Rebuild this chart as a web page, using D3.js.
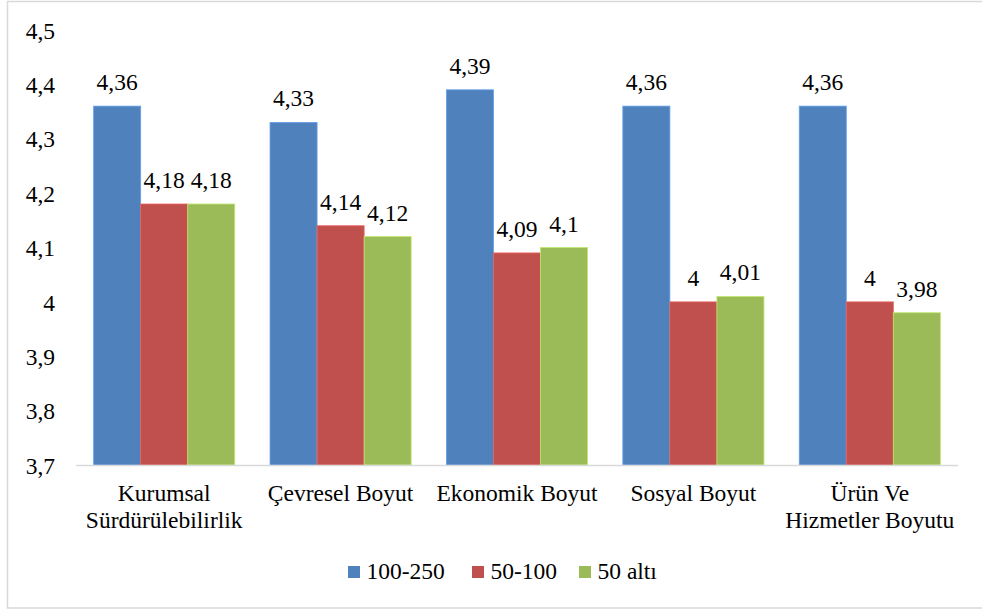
<!DOCTYPE html>
<html>
<head>
<meta charset="utf-8">
<script src="https://cdn.jsdelivr.net/npm/d3@7"></script>
</head>
<body style="margin:0">
<svg id="fig" width="982" height="610"></svg>
<script>
// Category names (split across lines where they wrap)
const categories = [
  ["Kurumsal", "Sürdürülebilirlik"],
  ["Çevresel Boyut"],
  ["Ekonomik Boyut"],
  ["Sosyal Boyut"],
  ["Ürün Ve", "Hizmetler Boyutu"]
];
const seriesNames = ["100-250", "50-100", "50 altı"];
const values100_250 = [4.36, 4.33, 4.39, 4.36, 4.36];
const values50_100  = [4.18, 4.14, 4.09, 4.00, 4.00];
const values50alti  = [4.18, 4.12, 4.10, 4.01, 3.98];
const seriesValues = [values100_250, values50_100, values50alti];
const yTicks = [3.7, 3.8, 3.9, 4.0, 4.1, 4.2, 4.3, 4.4, 4.5];
const colors = ["#4F81BD", "#C0504D", "#9BBB59"];

const FONT = "Liberation Serif";
const FS = 23.5;
const svg = d3.select("#fig");
const fmt = v => String(+v.toFixed(2)).replace(".", ",");

// Serif text helper
const serif = sel => sel.attr("font-family", FONT).attr("font-size", FS).attr("fill", "#000");

// Chart frame
svg.append("rect")
  .attr("x", 7.5).attr("y", 1.5)
  .attr("width", 1000).attr("height", 606.5)
  .attr("fill", "#fff").attr("stroke", "#d9d9d9").attr("stroke-width", 1.5);

const plot = { left: 76, right: 958, top: 30, bottom: 465 };

const x0 = d3.scaleBand()
  .domain(d3.range(categories.length))
  .range([plot.left, plot.right])
  .paddingInner(0.2).paddingOuter(0.1);
const x1 = d3.scaleBand()
  .domain(d3.range(seriesNames.length))
  .range([0, x0.bandwidth()]);
const y = d3.scaleLinear().domain([3.7, 4.5]).range([plot.bottom, plot.top]);

// Y axis labels
const yAxis = d3.axisLeft(y).tickValues(yTicks).tickSize(0).tickPadding(0).tickFormat(fmt);
const yg = svg.append("g").attr("transform", "translate(55,0)").call(yAxis);
yg.select(".domain").remove();
yg.attr("font-family", FONT).attr("font-size", FS);
yg.selectAll("text").call(serif).attr("dy", "0.35em").attr("x", 0);

// Bars
const groups = svg.append("g").selectAll("g")
  .data(categories.map((c, i) => i))
  .join("g")
  .attr("transform", i => `translate(${x0(i)},0)`);

groups.selectAll("rect")
  .data(i => seriesValues.map((s, k) => ({ k, v: s[i] })))
  .join("rect")
  .attr("x", d => x1(d.k))
  .attr("y", d => y(d.v))
  .attr("width", x1.bandwidth())
  .attr("height", d => y(3.7) - y(d.v))
  .attr("fill", d => colors[d.k])
  .attr("stroke", d => d3.color(colors[d.k]).brighter(0.6))
  .attr("stroke-width", 0.8);

// Value labels
groups.selectAll("text.val")
  .data(i => seriesValues.map((s, k) => ({ k, v: s[i] })))
  .join("text")
  .attr("class", "val")
  .attr("x", d => x1(d.k) + x1.bandwidth() / 2)
  .attr("y", d => y(d.v) - 16)
  .attr("text-anchor", "middle")
  .call(serif)
  .text(d => fmt(d.v));

// X axis line
svg.append("line")
  .attr("x1", plot.left).attr("x2", plot.right)
  .attr("y1", plot.bottom + 0.5).attr("y2", plot.bottom + 0.5)
  .attr("stroke", "#d9d9d9").attr("stroke-width", 1.5);

// Category labels
const catLabels = svg.append("g").selectAll("text")
  .data(categories)
  .join("text")
  .attr("text-anchor", "middle")
  .call(serif)
  .attr("x", (c, i) => x0(i) + x0.bandwidth() / 2)
  .attr("y", 501);
catLabels.selectAll("tspan")
  .data(c => c)
  .join("tspan")
  .attr("x", function() { return this.parentNode.getAttribute("x"); })
  .attr("dy", (d, j) => j === 0 ? 0 : 27)
  .text(d => d);

// Legend
const legendX = [348, 472, 579];
const legend = svg.append("g").selectAll("g")
  .data(seriesNames)
  .join("g")
  .attr("transform", (d, i) => `translate(${legendX[i]},566)`);
legend.append("rect")
  .attr("width", 12).attr("height", 12)
  .attr("fill", (d, i) => colors[i]);
legend.append("text")
  .attr("x", 18.5).attr("y", 13)
  .call(serif)
  .text(d => d);
</script>
</body>
</html>
